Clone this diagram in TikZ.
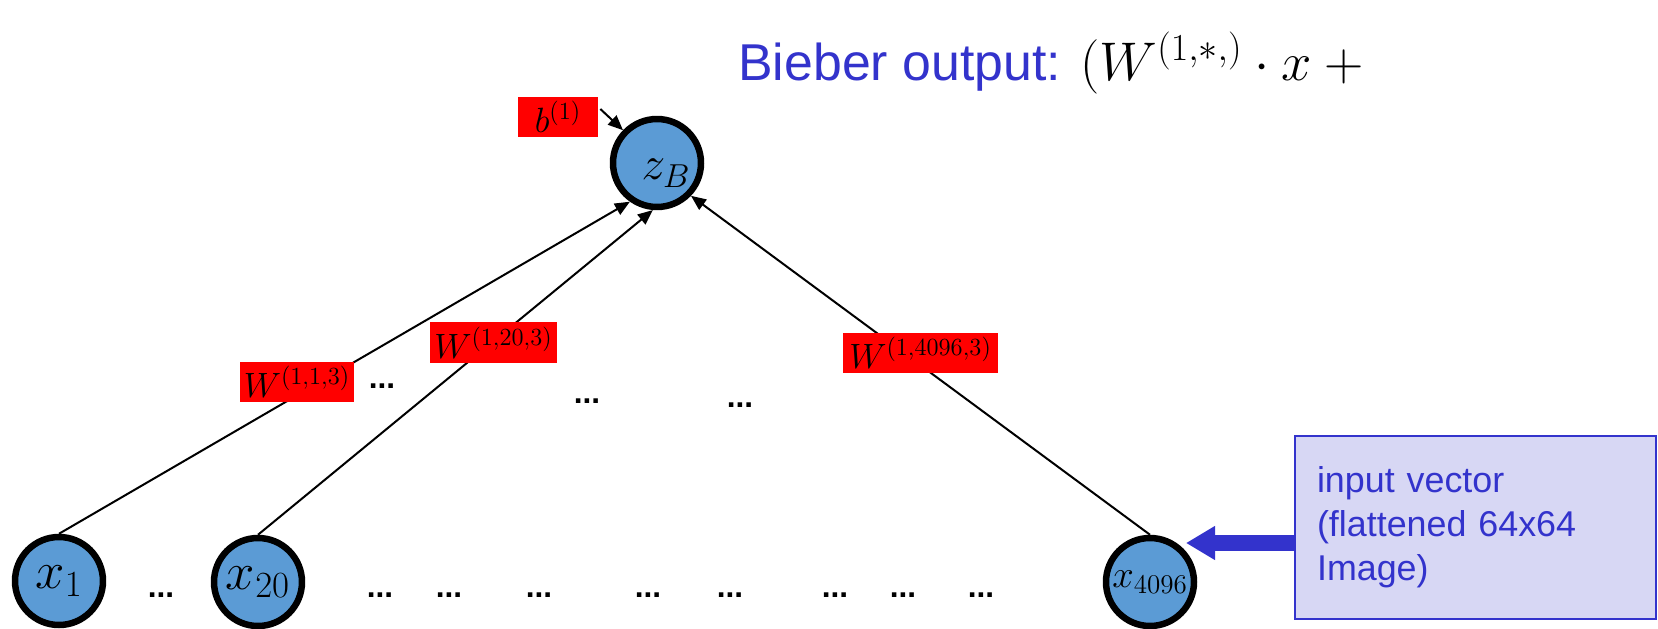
\RequirePackage{fix-cm}
\documentclass[tikz,border=0pt]{standalone}
\usepackage{fontspec}
\setmainfont{Liberation Sans}
\usetikzlibrary{arrows.meta}
\definecolor{nblue}{HTML}{5B9BD5}
\definecolor{tblue}{HTML}{3333CC}
\definecolor{lav}{HTML}{D7D7F4}
\begin{document}
\begin{tikzpicture}[x=0.02cm,y=-0.02cm,
  neuron/.style={circle, draw=black, line width=0.13cm, fill=nblue, minimum size=1.76cm, inner sep=0pt, font=\fontsize{30}{34}\selectfont},
  wlabel/.style={fill=red, inner sep=0pt, font=\fontsize{20}{24}\selectfont},
  conn/.style={draw=black, line width=0.04cm, -{Triangle[length=0.3cm,width=0.25cm]}},
  dotsnode/.style={inner sep=0pt, font=\fontsize{18}{20}\selectfont\bfseries},
  inbox/.style={draw=tblue, line width=0.04cm, fill=lav, text=tblue, align=left, text width=6.34cm, inner xsep=0.44cm, inner ysep=0pt, minimum height=3.66cm, font=\fontsize{20.4}{25}\selectfont}
]
\useasboundingbox (0,0) rectangle (1658,629);

% title
\node[anchor=base west, inner sep=0pt, text=tblue, font=\fontsize{29.5}{35}\selectfont] (title) at (738,80) {Bieber output: \textcolor{black}{\fontsize{31}{36}\selectfont$\bigl(W^{(1,*,)}\cdot x+{}$}};

% neurons
\node[neuron, font=\fontsize{27}{31}\selectfont] (zB) at (657,163) {\raisebox{-0.34cm}[0pt][0pt]{\hspace*{0.36cm}$z_B$}};
\node[neuron] (x1) at (59,581) {$x_1$};
\node[neuron] (x20) at (258,582) {$x_{20}$};
\node[neuron, font=\fontsize{22}{26}\selectfont] (x4096) at (1150,582) {$x_{4096}$};

% connectors
\draw[conn] (x1.north) -- (zB.235);
\draw[conn] (x20.north) -- (zB.265);
\draw[conn] (x4096.north) -- (zB.316);

% weight labels
\node[wlabel, minimum width=1.6cm, minimum height=0.8cm] (b1) at (558,117) {$b^{(1)}$};
\node[wlabel, minimum width=2.28cm, minimum height=0.8cm] (w1) at (297,382) {$W^{(1,1,3)}$};
\node[wlabel, minimum width=2.54cm, minimum height=0.82cm] (w20) at (493.5,342.5) {$W^{(1,20,3)}$};
\node[wlabel, minimum width=3.1cm, minimum height=0.8cm] (w4096) at (920.5,353) {$W^{(1,4096,3)}$};
\draw[conn] ([xshift=0.04cm,yshift=0.16cm]b1.east) -- (zB.136);

% dots
\foreach \i/\x/\y in {1/382/386, 2/587/401, 3/740/405, 4/161/595, 5/380/595, 6/449/595, 7/539/595, 8/648/595, 9/730/595, 10/835/595, 11/903/595, 12/981/595}
  \node[dotsnode] (d\i) at (\x,\y) {...};

% input box
\node[inbox] (inbox) at (1475.5,527.5) {input vector\\(flattened 64x64\\Image)};
\coordinate (arrtip) at (1186,543);
\draw[line width=0.32cm, tblue, -{Triangle[length=0.58cm,width=0.64cm]}] (inbox.west |- arrtip) -- (arrtip);
\end{tikzpicture}
\end{document}
